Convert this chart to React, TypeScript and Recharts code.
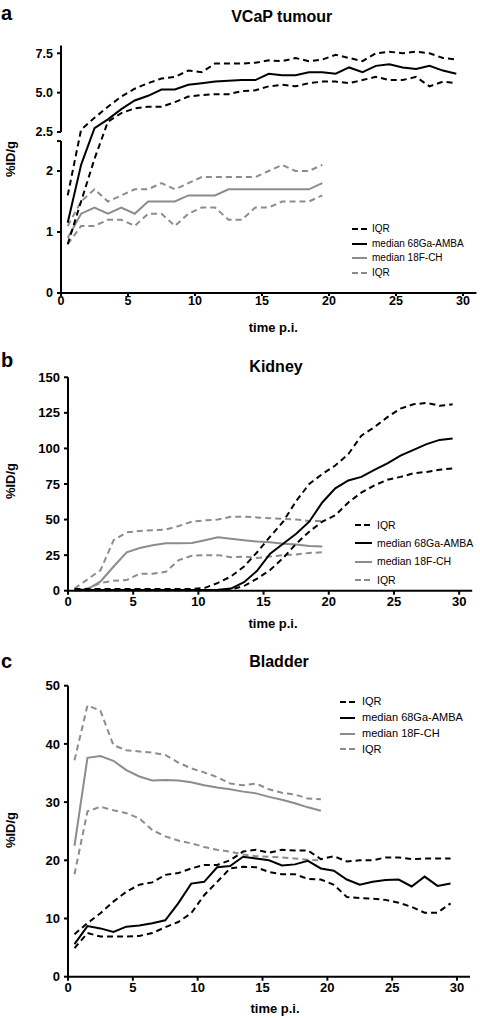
import React from 'react';
import { LineChart, Line, XAxis, YAxis, ReferenceLine, Legend } from 'recharts';

// ---------- data ----------
const times = [0.5, 1.5, 2.5, 3.5, 4.5, 5.5, 6.5, 7.5, 8.5, 9.5, 10.5, 11.5, 12.5, 13.5, 14.5, 15.5, 16.5, 17.5, 18.5, 19.5, 20.5, 21.5, 22.5, 23.5, 24.5, 25.5, 26.5, 27.5, 28.5, 29.5];
const xTicks = [0, 5, 10, 15, 20, 25, 30];

// a: VCaP tumour
const tumourAmbaQ3 = [1.6, 2.65, 3.4, 4.1, 4.75, 5.25, 5.6, 5.9, 6.0, 6.4, 6.3, 6.85, 6.85, 6.85, 6.9, 7.05, 7.0, 7.2, 7.0, 7.1, 7.4, 7.2, 7.0, 7.5, 7.6, 7.5, 7.6, 7.5, 7.2, 7.1];
const tumourAmbaMed = [1.15, 2.1, 2.75, 3.3, 3.95, 4.5, 4.8, 5.2, 5.2, 5.5, 5.6, 5.7, 5.75, 5.8, 5.8, 6.2, 6.1, 6.1, 6.3, 6.3, 6.2, 6.6, 6.3, 6.7, 6.8, 6.6, 6.5, 6.7, 6.4, 6.2];
const tumourAmbaQ1 = [0.8, 1.5, 2.2, 3.15, 3.7, 4.0, 4.1, 4.1, 4.4, 4.75, 4.85, 4.9, 4.9, 5.1, 5.15, 5.4, 5.5, 5.4, 5.6, 5.7, 5.7, 5.6, 5.8, 6.0, 5.8, 5.8, 6.0, 5.4, 5.7, 5.6];
const tumourChQ3 = [1.1, 1.5, 1.7, 1.5, 1.6, 1.7, 1.7, 1.8, 1.7, 1.8, 1.9, 1.9, 1.9, 1.9, 1.9, 2.0, 2.1, 2.0, 2.0, 2.1];
const tumourChMed = [0.9, 1.3, 1.4, 1.3, 1.4, 1.3, 1.5, 1.5, 1.5, 1.6, 1.6, 1.6, 1.7, 1.7, 1.7, 1.7, 1.7, 1.7, 1.7, 1.8];
const tumourChQ1 = [0.8, 1.1, 1.1, 1.2, 1.2, 1.1, 1.3, 1.3, 1.1, 1.3, 1.4, 1.4, 1.2, 1.2, 1.4, 1.4, 1.5, 1.5, 1.5, 1.6];
const tumourYTicks = [0, 1, 2, 2.49, 2.5, 5, 7.5];
const tumourYLabels: Record<string, string> = { '0': '0', '1': '1', '2': '2', '2.49': '', '2.5': '2.5', '5': '5.0', '7.5': '7.5' };

// b: Kidney
const kidneyAmbaQ3 = [1.2, 1.2, 1.2, 1.2, 1.2, 1.2, 1.2, 1.2, 1.2, 1.2, 2, 5.5, 10, 17, 27, 38, 48.5, 63, 75, 82, 88, 96, 109, 115, 122, 128, 131, 132, 130, 131];
const kidneyAmbaMed = [0.5, 0.5, 0.5, 0.5, 0.5, 0.5, 0.5, 0.5, 0.5, 0.5, 0.5, 0.6, 1.5, 6, 14, 26, 33, 40, 48.5, 62, 72, 77.5, 80, 85, 89.5, 95, 99, 103, 106, 107];
const kidneyAmbaQ1 = [0.3, 0.3, 0.3, 0.3, 0.3, 0.3, 0.3, 0.3, 0.3, 0.3, 0.3, 0.4, 0.8, 3.3, 8.5, 14.5, 23, 33, 41.5, 48.5, 53, 62, 69, 74, 78, 80, 82.5, 83.5, 85, 86];
const kidneyChQ3 = [1.5, 8, 14.5, 35.5, 41, 42, 42.5, 43, 45.5, 48.5, 49.5, 50, 52, 52, 51.5, 51, 50.5, 50, 49, 49];
const kidneyChMed = [0.5, 1, 6.5, 17, 27, 30, 32, 33.3, 33.3, 33.5, 35.5, 37.5, 36.5, 35.5, 34.5, 34, 33, 32.5, 31.5, 31];
const kidneyChQ1 = [0.5, 1.5, 5.5, 7, 7.5, 12, 12, 13.3, 21.5, 24.5, 25, 25, 23.5, 24, 23, 24, 25, 25.5, 26.5, 27];
const kidneyYTicks = [0, 25, 50, 75, 100, 125, 150];

// c: Bladder
const bladderAmbaQ3 = [7.3, 9.2, 10.9, 12.9, 14.6, 15.8, 16.2, 17.5, 17.8, 18.6, 19.2, 19.2, 20.0, 21.5, 21.8, 21.3, 21.8, 21.7, 21.7, 20.2, 20.7, 19.8, 20.0, 20.0, 20.5, 20.5, 20.2, 20.3, 20.3, 20.3];
const bladderAmbaMed = [5.6, 8.7, 8.3, 7.7, 8.6, 8.8, 9.2, 9.7, 12.6, 16, 16.3, 18.8, 19, 20.6, 20.3, 20.0, 19.1, 19.3, 19.9, 18.6, 18.2, 16.7, 15.8, 16.3, 16.6, 16.7, 15.5, 17.2, 15.6, 16.0];
const bladderAmbaQ1 = [4.9, 7.5, 6.9, 6.9, 6.9, 7.0, 7.5, 8.5, 9.4, 10.9, 14.0, 16.3, 18.6, 18.9, 18.8, 18.0, 17.6, 17.6, 16.8, 16.7, 15.8, 13.7, 13.5, 13.4, 13.2, 12.7, 12.0, 11.0, 11.0, 12.6];
const bladderChQ3 = [37.2, 46.6, 45.7, 39.8, 38.9, 38.7, 38.5, 38.1, 36.8, 35.8, 35.1, 34.3, 33.2, 32.9, 33.2, 32.2, 31.6, 31.3, 30.6, 30.5];
const bladderChMed = [22.5, 37.6, 37.9, 37.1, 35.5, 34.4, 33.7, 33.8, 33.7, 33.4, 32.9, 32.5, 32.2, 31.8, 31.5, 30.9, 30.4, 29.8, 29.1, 28.5];
const bladderChQ1 = [17.6, 28.4, 29.2, 28.6, 28.1, 27.2, 25.2, 24.1, 23.4, 22.9, 22.3, 21.8, 21.5, 21.0, 20.7, 20.6, 20.5, 20.3, 20.1, 20.0];
const bladderYTicks = [0, 10, 20, 30, 40, 50];

const legendLabels = ['IQR', 'median 68Ga-AMBA', 'median 18F-CH', 'IQR'];

// ---------- styling ----------
const FONT = '"Liberation Sans", Arial, Helvetica, sans-serif';
const BLACK = '#000000';
const GREY = '#8c8c8c';
const DASH = '6 4';

const legendStyles = [
  { color: BLACK, dash: '6 3' },
  { color: BLACK, dash: undefined },
  { color: GREY, dash: undefined },
  { color: GREY, dash: '6 3' },
];

function buildRows(a: number[][], c: number[][]) {
  return times.map((t, i) => ({
    t,
    ambaQ3: a[0][i] ?? null,
    ambaMed: a[1][i] ?? null,
    ambaQ1: a[2][i] ?? null,
    chQ3: c[0][i] ?? null,
    chMed: c[1][i] ?? null,
    chQ1: c[2][i] ?? null,
  }));
}

const tumourRows = buildRows([tumourAmbaQ3, tumourAmbaMed, tumourAmbaQ1], [tumourChQ3, tumourChMed, tumourChQ1]);
const kidneyRows = buildRows([kidneyAmbaQ3, kidneyAmbaMed, kidneyAmbaQ1], [kidneyChQ3, kidneyChMed, kidneyChQ1]);
const bladderRows = buildRows([bladderAmbaQ3, bladderAmbaMed, bladderAmbaQ1], [bladderChQ3, bladderChMed, bladderChQ1]);

// piecewise-linear (broken) scale for the tumour y axis
function makeBrokenScale(breaks: number[], fracs: number[]): any {
  let dom: number[] = [breaks[0], breaks[breaks.length - 1]];
  let rng: number[] = [0, 1];
  const scale: any = (v: number) => {
    let i = 0;
    while (i < breaks.length - 2 && v > breaks[i + 1]) i++;
    const f = fracs[i] + ((v - breaks[i]) / (breaks[i + 1] - breaks[i])) * (fracs[i + 1] - fracs[i]);
    return rng[0] + f * (rng[1] - rng[0]);
  };
  scale.domain = (d?: number[]) => {
    if (d === undefined) return dom;
    dom = Array.from(d);
    return scale;
  };
  scale.range = (r?: number[]) => {
    if (r === undefined) return rng;
    rng = Array.from(r);
    return scale;
  };
  scale.copy = () => makeBrokenScale(breaks, fracs).domain(dom).range(rng);
  scale.ticks = () => breaks.slice();
  scale.tickFormat = () => (v: number) => String(v);
  scale.nice = () => scale;
  scale.clamp = () => scale;
  scale.invert = (px: number) => {
    const f = (px - rng[0]) / (rng[1] - rng[0]);
    let i = 0;
    while (i < fracs.length - 2 && f > fracs[i + 1]) i++;
    return breaks[i] + ((f - fracs[i]) / (fracs[i + 1] - fracs[i])) * (breaks[i + 1] - breaks[i]);
  };
  return scale;
}
const tumourScale = makeBrokenScale([0, 2.49, 2.5, 8], [0, 0.6135, 0.6502, 1]);

const LegendBox = ({ rowH, sampleW, gap, fontSize }: { rowH: number; sampleW: number; gap: number; fontSize: number }) => (
  <div style={{ fontFamily: FONT, fontSize, color: '#000' }}>
    {legendLabels.map((label, i) => (
      <div key={i} style={{ height: rowH, display: 'flex', alignItems: 'center', whiteSpace: 'nowrap' }}>
        <svg width={sampleW} height={4} style={{ display: 'block', flex: 'none' }}>
          <line x1={0} y1={2} x2={sampleW} y2={2} stroke={legendStyles[i].color} strokeWidth={2} strokeDasharray={legendStyles[i].dash} />
        </svg>
        <span style={{ marginLeft: gap, lineHeight: 1 }}>{label}</span>
      </div>
    ))}
  </div>
);

function seriesLines() {
  return [
    <Line key="chQ3" type="linear" dataKey="chQ3" stroke={GREY} strokeWidth={2} strokeDasharray={DASH} dot={false} activeDot={false} isAnimationActive={false} />,
    <Line key="chQ1" type="linear" dataKey="chQ1" stroke={GREY} strokeWidth={2} strokeDasharray={DASH} dot={false} activeDot={false} isAnimationActive={false} />,
    <Line key="chMed" type="linear" dataKey="chMed" stroke={GREY} strokeWidth={2} dot={false} activeDot={false} isAnimationActive={false} />,
    <Line key="ambaQ3" type="linear" dataKey="ambaQ3" stroke={BLACK} strokeWidth={2} strokeDasharray={DASH} dot={false} activeDot={false} isAnimationActive={false} />,
    <Line key="ambaQ1" type="linear" dataKey="ambaQ1" stroke={BLACK} strokeWidth={2} strokeDasharray={DASH} dot={false} activeDot={false} isAnimationActive={false} />,
    <Line key="ambaMed" type="linear" dataKey="ambaMed" stroke={BLACK} strokeWidth={2} dot={false} activeDot={false} isAnimationActive={false} />,
  ];
}

const axisLine = { stroke: BLACK, strokeWidth: 2 };
const tickLine = { stroke: BLACK, strokeWidth: 2 };

export default function App() {
  const tickA = { fontSize: 12.5, fontWeight: 'bold', fill: '#000', fontFamily: FONT };
  const tickBC = { fontSize: 13, fontWeight: 'bold', fill: '#000', fontFamily: FONT };
  return (
    <div style={{ position: 'absolute', left: 0, top: 0, width: 480, height: 1018, background: '#fff', overflow: 'hidden' }}>
      {/* panel a */}
      <div style={{ position: 'absolute', left: 0, top: 0 }}>
        <LineChart width={480} height={340} data={tumourRows} margin={{ top: 45.4, right: 3.6, bottom: 22, left: 0 }}>
          <XAxis dataKey="t" type="number" domain={[0, 31]} ticks={xTicks} height={25} axisLine={axisLine} tickLine={tickLine} tickSize={3} tickMargin={0} tick={tickA} />
          <YAxis type="number" domain={[0, 8]} scale={tumourScale} ticks={tumourYTicks} width={61} axisLine={false} tickLine={tickLine} tickSize={4} tickMargin={4} tick={tickA} tickFormatter={(v: number) => tumourYLabels[String(v)] ?? String(v)} interval={0} />
          <ReferenceLine segment={[{ x: 0, y: 0 }, { x: 0, y: 2.49 }]} stroke={BLACK} strokeWidth={2} ifOverflow="visible" />
          <ReferenceLine segment={[{ x: 0, y: 2.5 }, { x: 0, y: 8 }]} stroke={BLACK} strokeWidth={2} ifOverflow="visible" />
          {seriesLines()}
          <Legend layout="vertical" align="center" verticalAlign="middle" wrapperStyle={{ left: 352, top: 221.6, width: 125 }} content={() => <LegendBox rowH={14.7} sampleW={15} gap={5} fontSize={10} />} />
        </LineChart>
      </div>
      {/* panel b */}
      <div style={{ position: 'absolute', left: 0, top: 340 }}>
        <LineChart width={480} height={300} data={kidneyRows} margin={{ top: 37.3, right: 7.8, bottom: 24.3, left: 0 }}>
          <XAxis dataKey="t" type="number" domain={[0, 31]} ticks={xTicks} height={25} axisLine={axisLine} tickLine={tickLine} tickSize={4} tickMargin={2} tick={tickBC} />
          <YAxis type="number" domain={[0, 150]} ticks={kidneyYTicks} width={68} axisLine={axisLine} tickLine={tickLine} tickSize={4} tickMargin={4} tick={tickBC} interval={0} />
          {seriesLines()}
          <Legend layout="vertical" align="center" verticalAlign="middle" wrapperStyle={{ left: 355, top: 175.9, width: 125 }} content={() => <LegendBox rowH={18.3} sampleW={17} gap={5} fontSize={10.5} />} />
        </LineChart>
      </div>
      {/* panel c */}
      <div style={{ position: 'absolute', left: 0, top: 640 }}>
        <LineChart width={480} height={378} data={bladderRows} margin={{ top: 45.7, right: 10, bottom: 16.3, left: 0 }}>
          <XAxis dataKey="t" type="number" domain={[0, 31]} ticks={xTicks} height={25} axisLine={axisLine} tickLine={tickLine} tickSize={4} tickMargin={2} tick={tickBC} />
          <YAxis type="number" domain={[0, 50]} ticks={bladderYTicks} width={68} axisLine={axisLine} tickLine={tickLine} tickSize={4} tickMargin={4} tick={tickBC} interval={0} />
          {seriesLines()}
          <Legend layout="vertical" align="center" verticalAlign="middle" wrapperStyle={{ left: 340, top: 53.8, width: 135 }} content={() => <LegendBox rowH={15.9} sampleW={15} gap={7} fontSize={11} />} />
        </LineChart>
      </div>
      {/* titles and axis labels */}
      <svg width={480} height={1018} style={{ position: 'absolute', left: 0, top: 0, pointerEvents: 'none' }} fontFamily={FONT} fill="#000">
        <text x={1} y={20} fontSize={20} fontWeight="bold">a</text>
        <text x={281.7} y={21.7} fontSize={16} fontWeight="bold" textAnchor="middle">VCaP tumour</text>
        <text x={273.3} y={331.5} fontSize={13} fontWeight="bold" textAnchor="middle">time p.i.</text>
        <text x={15} y={159} fontSize={13} fontWeight="bold" textAnchor="middle" transform="rotate(-90 15 159)">%ID/g</text>

        <text x={1} y={366.7} fontSize={20} fontWeight="bold">b</text>
        <text x={276} y={371.7} fontSize={16} fontWeight="bold" textAnchor="middle">Kidney</text>
        <text x={273} y={627.7} fontSize={13} fontWeight="bold" textAnchor="middle">time p.i.</text>
        <text x={15} y={481} fontSize={13} fontWeight="bold" textAnchor="middle" transform="rotate(-90 15 481)">%ID/g</text>

        <text x={1} y={668} fontSize={20} fontWeight="bold">c</text>
        <text x={279} y={666.7} fontSize={16} fontWeight="bold" textAnchor="middle">Bladder</text>
        <text x={275} y={1013.3} fontSize={13} fontWeight="bold" textAnchor="middle">time p.i.</text>
        <text x={15} y={830} fontSize={13} fontWeight="bold" textAnchor="middle" transform="rotate(-90 15 830)">%ID/g</text>
      </svg>
    </div>
  );
}
